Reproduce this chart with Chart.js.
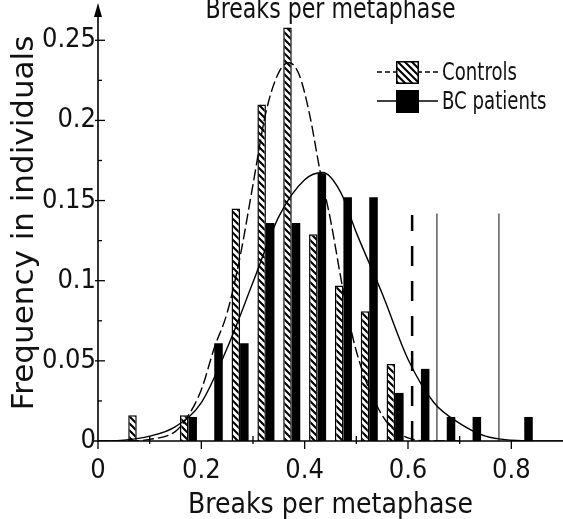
<!DOCTYPE html>
<html><head><meta charset="utf-8">
<script src="https://cdn.jsdelivr.net/npm/chart.js@4.4.1/dist/chart.umd.min.js"></script>
<style>html,body{margin:0;padding:0;background:#fff;overflow:hidden}#wrap{width:563px;height:519px;position:relative}</style>
</head><body><div id="wrap"><canvas id="c" width="563" height="519"></canvas></div>
<script>
// ---- data ----
const chartTitle = 'Breaks per metaphase';
const xTitle = 'Breaks per metaphase';
const yTitle = 'Frequency in individuals';
const seriesNames = ['Controls', 'BC patients'];
const binCenters   = [0.075, 0.125, 0.175, 0.225, 0.275, 0.325, 0.375, 0.425, 0.475, 0.525, 0.575, 0.625, 0.675, 0.725, 0.775, 0.825];
const controlsFreq = [0.016, null, 0.016, null, 0.145, 0.210, 0.258, 0.129, 0.097, 0.081, 0.048, null, null, null, null, null];
const patientsFreq = [null, null, 0.015, 0.061, 0.061, 0.136, 0.136, 0.167, 0.152, 0.152, 0.030, 0.045, 0.015, 0.015, null, 0.015];
// fitted curves, read point by point
const controlsFitX = [0.00, 0.05, 0.10, 0.15, 0.175, 0.20, 0.225, 0.25, 0.275, 0.30, 0.325, 0.35, 0.37, 0.39, 0.41, 0.43, 0.45, 0.475, 0.50, 0.55, 0.60, 0.65, 0.70];
const controlsFitY = [0.000, 0.000, 0.001, 0.006, 0.016, 0.032, 0.058, 0.080, 0.115, 0.160, 0.205, 0.230, 0.236, 0.228, 0.203, 0.168, 0.138, 0.093, 0.056, 0.016, 0.002, 0.000, 0.000];
const patientsFitX = [0.00, 0.05, 0.10, 0.15, 0.20, 0.25, 0.30, 0.35, 0.40, 0.435, 0.47, 0.50, 0.55, 0.60, 0.65, 0.70, 0.75, 0.80, 0.85, 0.90];
const patientsFitY = [0.000, 0.0005, 0.003, 0.009, 0.024, 0.058, 0.099, 0.140, 0.163, 0.1675, 0.155, 0.130, 0.092, 0.051, 0.024, 0.011, 0.003, 0.0005, 0.000, 0.000];
// threshold lines
const thresholdX   = [0.608, 0.656, 0.776];
const thresholdTop = [0.141, 0.142, 0.142];
const thresholdDashed = [true, false, false];
// axes
const xTickValues = [0, 0.2, 0.4, 0.6, 0.8];
const xMinorTicks = [0.1, 0.3, 0.5, 0.7];
const yTickValues = [0, 0.05, 0.1, 0.15, 0.2, 0.25];
const yMinorTicks = [0.025, 0.075, 0.125, 0.175, 0.225];
const xMax = 0.9, yMax = 0.272;

const COND = "'DejaVu Sans Condensed', 'DejaVu Sans', sans-serif";

function makeHatch() {
  const s = 7, p = document.createElement('canvas');
  p.width = s; p.height = s;
  const g = p.getContext('2d');
  g.fillStyle = '#fff'; g.fillRect(0, 0, s, s);
  g.strokeStyle = '#000'; g.lineWidth = 2.1; g.lineCap = 'square';
  g.beginPath();
  g.moveTo(-1, -1); g.lineTo(s + 1, s + 1);
  g.moveTo(-1, s - 1); g.lineTo(1, s + 1);
  g.moveTo(s - 1, -1); g.lineTo(s + 1, 1);
  g.stroke();
  return document.getElementById('c').getContext('2d').createPattern(p, 'repeat');
}
const hatch = makeHatch();

const datasets = [
  { type: 'bar', label: seriesNames[0], order: 2,
    data: binCenters.map((x, i) => ({ x, y: controlsFreq[i] })),
    backgroundColor: hatch, borderColor: '#000', borderWidth: 1.5, borderSkipped: 'bottom',
    categoryPercentage: 0.66, barPercentage: 1.0 },
  { type: 'bar', label: seriesNames[1], order: 2,
    data: binCenters.map((x, i) => ({ x, y: patientsFreq[i] })),
    backgroundColor: '#000', borderColor: '#000', borderWidth: 0,
    categoryPercentage: 0.66, barPercentage: 1.0 },
  { type: 'line', label: 'controlsFit', order: 1,
    data: controlsFitX.map((x, i) => ({ x, y: controlsFitY[i] })),
    borderColor: '#000', borderWidth: 1.4, borderDash: [11, 4], pointRadius: 0, fill: false,
    cubicInterpolationMode: 'monotone' },
  { type: 'line', label: 'patientsFit', order: 1,
    data: patientsFitX.map((x, i) => ({ x, y: patientsFitY[i] })),
    borderColor: '#000', borderWidth: 1.4, pointRadius: 0, fill: false,
    cubicInterpolationMode: 'monotone' }
];
thresholdX.forEach((tx, i) => {
  datasets.push({ type: 'line', label: 'threshold' + i, order: 1,
    data: [{ x: tx, y: 0 }, { x: tx, y: thresholdTop[i] }],
    borderColor: thresholdDashed[i] ? '#000' : '#222',
    borderWidth: thresholdDashed[i] ? 2.5 : 1.1,
    borderDash: thresholdDashed[i] ? [20, 15] : [],
    pointRadius: 0, fill: false });
});

// draw text squeezed horizontally so it spans a given width (narrow typeface look)
function narrowText(ctx, text, x, y, width) {
  const w = ctx.measureText(text).width;
  ctx.save(); ctx.translate(x, y); ctx.scale(width / w, 1); ctx.fillText(text, 0, 0); ctx.restore();
  return width / w;
}

const decor = {
  id: 'decor',
  afterDatasetsDraw(chart) {
    const { ctx, chartArea: a, scales: { x, y } } = chart;
    const x0 = x.getPixelForValue(0), y0 = y.getPixelForValue(0);
    ctx.save();
    ctx.strokeStyle = '#000'; ctx.fillStyle = '#000'; ctx.lineWidth = 1.6;
    // axes
    ctx.beginPath(); ctx.moveTo(x0 - 4, y0); ctx.lineTo(a.right, y0); ctx.stroke();
    ctx.beginPath(); ctx.moveTo(x0, y0 + 1); ctx.lineTo(x0, a.top + 8); ctx.stroke();
    ctx.beginPath(); ctx.moveTo(x0, a.top - 2); ctx.lineTo(x0 - 4, a.top + 12); ctx.lineTo(x0 + 4, a.top + 12); ctx.closePath(); ctx.fill();
    // ticks
    ctx.lineWidth = 1.3;
    yTickValues.forEach(v => { const py = y.getPixelForValue(v); if (v === 0) return; ctx.beginPath(); ctx.moveTo(x0 - 3, py); ctx.lineTo(x0 + 7, py); ctx.stroke(); });
    yMinorTicks.forEach(v => { const py = y.getPixelForValue(v); ctx.beginPath(); ctx.moveTo(x0, py); ctx.lineTo(x0 + 4, py); ctx.stroke(); });
    xTickValues.forEach(v => { const px = x.getPixelForValue(v); ctx.beginPath(); ctx.moveTo(px, y0); ctx.lineTo(px, y0 + 8); ctx.stroke(); });
    xMinorTicks.forEach(v => { const px = x.getPixelForValue(v); ctx.beginPath(); ctx.moveTo(px, y0 - 5); ctx.lineTo(px, y0 + 3); ctx.stroke(); });
    // title (partly above the canvas top, as in the original)
    ctx.font = '28px ' + COND; ctx.textAlign = 'center'; ctx.textBaseline = 'alphabetic';
    ctx.fillStyle = '#111';
    narrowText(ctx, chartTitle, (a.left + a.right) / 2, 18, 250);
    // legend
    const rows = [{ ds: chart.data.datasets[0], cy: 72, dash: [5, 3] }, { ds: chart.data.datasets[1], cy: 101, dash: [] }];
    ctx.font = '25px ' + COND;
    const sx = 75 / ctx.measureText(rows[0].ds.label).width;
    rows.forEach(r => {
      ctx.strokeStyle = '#000'; ctx.lineWidth = 1.3; ctx.setLineDash(r.dash);
      ctx.beginPath(); ctx.moveTo(377, r.cy); ctx.lineTo(438, r.cy); ctx.stroke();
      ctx.setLineDash([]);
      ctx.fillStyle = r.ds.backgroundColor; ctx.fillRect(396, r.cy - 11, 23, 23);
      ctx.lineWidth = 1.5; ctx.strokeRect(396.75, r.cy - 10.25, 21.5, 21.5);
      ctx.fillStyle = '#111'; ctx.font = '25px ' + COND; ctx.textAlign = 'left'; ctx.textBaseline = 'middle';
      const w = ctx.measureText(r.ds.label).width;
      narrowText(ctx, r.ds.label, 442, r.cy + 1, w * sx);
    });
    ctx.restore();
  }
};

const fmt = v => String(+Number(v).toFixed(3));

new Chart(document.getElementById('c'), {
  type: 'bar',
  data: { datasets },
  options: {
    responsive: false, animation: false, devicePixelRatio: 1,
    layout: { padding: { top: 5, right: 0, left: 0, bottom: 0 } },
    plugins: { legend: { display: false }, tooltip: { enabled: false }, title: { display: false } },
    scales: {
      x: {
        type: 'linear', min: 0, max: xMax, offset: false,
        grid: { display: false, drawTicks: false, tickLength: 0 }, border: { display: false },
        afterBuildTicks: s => { s.ticks = xTickValues.map(v => ({ value: v })); },
        afterFit: s => { s.height = 78; s.paddingLeft = 0; s.paddingRight = 0; s.paddingTop = 0; s.paddingBottom = 0; },
        ticks: { font: { family: COND, size: 27 }, color: '#111', padding: 14, maxRotation: 0, autoSkip: false, callback: fmt },
        title: { display: true, text: xTitle, font: { family: COND, size: 28 }, color: '#111', padding: { top: 0, bottom: -4 } }
      },
      y: {
        type: 'linear', min: 0, max: yMax,
        grid: { display: false, drawTicks: false, tickLength: 0 }, border: { display: false },
        afterBuildTicks: s => { s.ticks = yTickValues.map(v => ({ value: v })); },
        afterFit: s => { s.width = 98; s.paddingLeft = 0; s.paddingRight = 0; s.paddingTop = 0; s.paddingBottom = 0; },
        ticks: { font: { family: COND, size: 27 }, color: '#111', padding: 2, autoSkip: false, callback: fmt },
        title: { display: true, text: yTitle, font: { family: "'DejaVu Sans', sans-serif", size: 31 }, color: '#111', padding: { top: 6, bottom: 0 } }
      }
    }
  },
  plugins: [decor]
});
</script></body></html>
